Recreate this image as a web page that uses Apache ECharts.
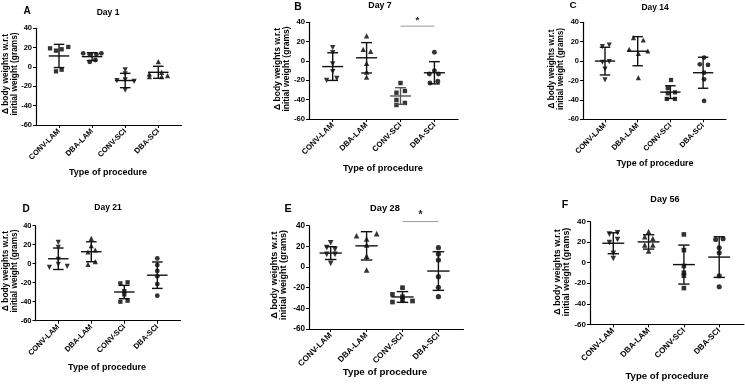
<!DOCTYPE html>
<html><head><meta charset="utf-8">
<script src="https://cdn.jsdelivr.net/npm/echarts@6/dist/echarts.min.js"></script>
<style>html,body{margin:0;padding:0;background:#fff}#c{width:745px;height:388px}</style>
</head><body><div id="c"></div>
<script>
// ---------- data ----------
const categories = ['CONV-LAM', 'DBA-LAM', 'CONV-SCI', 'DBA-SCI'];
const yTicks = [-60, -40, -20, 0, 20, 40];
const panelTitles = ['Day 1', 'Day 7', 'Day 14', 'Day 21', 'Day 28', 'Day 56'];
const panelLetters = ['A', 'B', 'C', 'D', 'E', 'F'];
const xAxisTitle = 'Type of procedure';
const yAxisTitle = 'Δ body weights w.r.t\ninitial weight (grams)';

// Day 1
const d1_values = [[19.3, 16.9, 18.3, 20.7, -4.5, -2.8], [14.1, 13.1, 13.1, 14.1, 5.2, 7.2], [-3, -7, -14, -14.8, -13.4, -24], [5.5, -7.2, -10, -5.5, -10, -9]];
const d1_jitter = [[-0.27, -0.09, 0.08, 0.28, -0.09, 0.08], [-0.27, -0.07, 0.13, 0.28, -0.07, 0.1], [0, 0, -0.25, 0.27, 0, 0], [0, -0.27, -0.27, 0.1, 0.1, 0.28]];
const d1_mean = [11.4, 10.7, -14.0, -5.5];
const d1_sd = [12.0, 4.1, 7.4, 6.2];
// Day 7
const d7_values = [[13.8, 8.6, -3.1, -11, -20, -18], [25.9, 12, 10, -2.4, -11.4, -16.6], [-22.8, -32.8, -31, -40.3, -45.5, -43.4], [9, -10, -13.4, -13.4, -22.8, -21]];
const d7_jitter = [[0, 0, 0, 0, -0.18, 0.12], [0, -0.1, 0.12, 0, 0, 0], [0, -0.12, 0.13, -0.12, -0.12, 0.13], [0, 0, -0.15, 0.12, -0.13, 0.1]];
const d7_mean = [-5.8, 3.3, -36.2, -12.2];
const d7_sd = [14.3, 15.7, 8.6, 11.5];
const d7_sig = [2, 3, 36];
// Day 14
const d14_values = [[14.9, 16.6, -1.2, -0.5, -8.1, -19.4], [24.2, 21.8, 12.2, 10.4, 8, -17], [-19.5, -28, -32.2, -33.2, -39, -39], [3.6, -3.3, -4, -11.9, -18.8, -41.1]];
const d14_jitter = [[-0.08, 0.13, -0.08, 0.13, 0, 0], [-0.13, 0.17, -0.26, 0.31, 0.02, 0.02], [0.02, -0.08, 0.14, -0.08, -0.11, 0.14], [0.03, -0.1, 0.15, 0.03, 0.03, 0.03]];
const d14_mean = [0, 10.2, -32.0, -12.0];
const d14_sd = [14.3, 15.0, 6.6, 16.0];
// Day 21
const d21_values = [[22.5, 17.2, 4.6, -0.7, -3.9, -2.8], [26.7, 18.9, 12.3, 14.4, -0.7, 2.1], [-20.7, -19.6, -28.8, -32.3, -40, -38.9], [5.6, -1.4, -7.7, -13.3, -21.4, -33.7]];
const d21_jitter = [[0, 0, 0, 0, -0.27, 0.27], [0, 0, -0.1, 0.12, -0.1, 0.12], [-0.12, 0.1, 0, 0, -0.12, 0.1], [0, 0, 0, 0, 0, 0]];
const d21_mean = [5.2, 12.6, -29.8, -12.1];
const d21_sd = [11.3, 10.5, 7.0, 13.9];
// Day 28
const d28_values = [[23.5, 18.7, 17.1, 12.3, 12.3, 3.5], [30.3, 27.1, 32.3, 21.3, 10.6, -2.9], [-20, -26.5, -28.7, -31.9, -33.9, -32.9], [18.7, 12.6, 6.8, -9.4, -19.7, -28.7]];
const d28_jitter = [[0, -0.11, 0.12, -0.11, 0.12, 0], [-0.28, 0, 0.28, 0, 0, 0], [0, -0.28, 0, 0, -0.28, 0.28], [0, 0, 0, 0, 0, 0]];
const d28_mean = [13.5, 20.5, -29.0, -3.9];
const d28_sd = [6.2, 13.7, 5.2, 18.7];
const d28_sig = [2, 3, 44];
// Day 56
const d56_values = [[27.9, 29.2, 19.8, 22.7, 9.1, 4.2], [30.2, 25.3, 23.7, 17.2, 17.2, 11.4], [27.6, 12.3, -3.2, -9.7, -12.7, -24.7], [22.7, 23.4, 14.6, 9.7, -12.7, -23.4]];
const d56_jitter = [[-0.11, 0.12, -0.11, 0.12, 0, 0], [0, -0.11, 0.12, -0.11, 0.12, 0], [0, 0, 0, 0, 0, 0], [-0.1, 0.11, 0, 0, 0, 0]];
const d56_mean = [19.0, 20.3, -1.8, 5.5];
const d56_sd = [10.2, 7.0, 19.0, 19.8];

// ---------- layout / style ----------
const panels = [
  {values: d1_values, jitter: d1_jitter, mean: d1_mean, sd: d1_sd, sig: null,
   left: 36, top: 28.3, bottom: 125, tick0: 59, step: 33.1, title: [108, 13], letter: [27, 11], xName: [108, 173], yName: [10, 74], shapes: ['sq', 'ci', 'td', 'tu']},
  {values: d7_values, jitter: d7_jitter, mean: d7_mean, sd: d7_sd, sig: d7_sig,
   left: 309, top: 22.3, bottom: 119, tick0: 332.7, step: 33.9, title: [380, 6], letter: [298, 7], xName: [383, 168], yName: [282, 69], shapes: ['td', 'tu', 'sq', 'ci']},
  {values: d14_values, jitter: d14_jitter, mean: d14_mean, sd: d14_sd, sig: null,
   left: 583, top: 22.3, bottom: 119.3, tick0: 605, step: 32.7, title: [655, 8], letter: [573, 5], xName: [655, 164], yName: [556, 69], shapes: ['td', 'tu', 'sq', 'ci']},
  {values: d21_values, jitter: d21_jitter, mean: d21_mean, sd: d21_sd, sig: null,
   left: 35.5, top: 225.7, bottom: 320.7, tick0: 58.3, step: 33, title: [108, 208], letter: [26, 209], xName: [107, 368], yName: [10, 271], shapes: ['td', 'tu', 'sq', 'ci']},
  {values: d28_values, jitter: d28_jitter, mean: d28_mean, sd: d28_sd, sig: d28_sig,
   left: 309, top: 225.7, bottom: 329, tick0: 330.7, step: 35.9, title: [385, 208], letter: [288, 209], xName: [385, 372], yName: [279, 275], shapes: ['td', 'tu', 'sq', 'ci']},
  {values: d56_values, jitter: d56_jitter, mean: d56_mean, sd: d56_sd, sig: null,
   left: 590, top: 221.7, bottom: 324.3, tick0: 613.3, step: 35.3, title: [665, 199], letter: [565, 205], xName: [667, 376], yName: [562, 272], shapes: ['td', 'tu', 'sq', 'ci']}
];
const FONT = '"Liberation Sans", Arial, sans-serif';
const symbolOf = {
  sq: {symbol: 'rect', size: 4.3, rot: 0},
  ci: {symbol: 'circle', size: 4.8, rot: 0},
  tu: {symbol: 'triangle', size: 5.2, rot: 0},
  td: {symbol: 'triangle', size: 5.2, rot: 180}
};

const grids = [], xAxes = [], yAxes = [], series = [], graphics = [];
panels.forEach((p, i) => {
  const s = p.step / 33;
  const xMin = -(p.tick0 - p.left) / p.step;
  const xMax = 3.7;
  grids.push({left: p.left, top: p.top, width: (xMax - xMin) * p.step, height: p.bottom - p.top, containLabel: false});
  xAxes.push({
    type: 'value', gridIndex: i, min: xMin, max: xMax,
    axisLine: {show: true, onZero: false, lineStyle: {color: '#000', width: 1.2}},
    axisTick: {show: true, customValues: [0, 1, 2, 3], length: 3, lineStyle: {color: '#000', width: 1}},
    axisLabel: {show: true, customValues: [0, 1, 2, 3], formatter: v => categories[Math.round(v)],
      rotate: 45, margin: 5, fontSize: 7.6 * s, fontWeight: 'bold', color: '#000', fontFamily: FONT},
    splitLine: {show: false}
  });
  yAxes.push({
    type: 'value', gridIndex: i, min: yTicks[0], max: yTicks[yTicks.length - 1], interval: 20,
    axisLine: {show: true, onZero: false, lineStyle: {color: '#000', width: 1.2}},
    axisTick: {show: true, length: 3, lineStyle: {color: '#000', width: 1}},
    axisLabel: {show: true, margin: 4, fontSize: 7.5 * s, fontWeight: 'bold', color: '#000', fontFamily: FONT},
    splitLine: {show: false}
  });
  // scatter points
  p.values.forEach((vals, g) => {
    const sym = symbolOf[p.shapes[g]];
    series.push({
      type: 'scatter', xAxisIndex: i, yAxisIndex: i,
      symbol: sym.symbol, symbolSize: sym.size * s, symbolRotate: sym.rot,
      itemStyle: {color: '#000'}, z: 2,
      data: vals.map((v, k) => [g + p.jitter[g][k], v])
    });
  });
  // mean ± SD bars
  const barColor = (i === 1) ? ['#111', '#111', '#555', '#111'] : ['#111', '#111', '#111', '#111'];
  series.push({
    type: 'custom', xAxisIndex: i, yAxisIndex: i, z: 3,
    data: p.mean.map((m, g) => [g, m, p.sd[g]]),
    renderItem: (params, api) => {
      const x = api.value(0), m = api.value(1), sd = api.value(2);
      const c = api.coord([x, m]);
      const t = api.coord([x, m + sd]);
      const b = api.coord([x, m - sd]);
      const w = api.size([1, 0])[0];
      const hw = w * 0.31, cw = w * 0.16;
      const st = {stroke: barColor[Math.round(x)], lineWidth: 1.4};
      return {type: 'group', children: [
        {type: 'line', shape: {x1: c[0] - hw, y1: c[1], x2: c[0] + hw, y2: c[1]}, style: st},
        {type: 'line', shape: {x1: t[0], y1: t[1], x2: b[0], y2: b[1]}, style: st},
        {type: 'line', shape: {x1: t[0] - cw, y1: t[1], x2: t[0] + cw, y2: t[1]}, style: st},
        {type: 'line', shape: {x1: b[0] - cw, y1: b[1], x2: b[0] + cw, y2: b[1]}, style: st}
      ]};
    }
  });
  // significance bracket with star
  if (p.sig) {
    series.push({
      type: 'custom', xAxisIndex: i, yAxisIndex: i, clip: false, silent: true, z: 4,
      data: [[p.sig[0], p.sig[1], p.sig[2]]],
      renderItem: (params, api) => {
        const a = api.coord([api.value(0), api.value(2)]);
        const b = api.coord([api.value(1), api.value(2)]);
        return {type: 'group', children: [
          {type: 'line', shape: {x1: a[0], y1: a[1], x2: b[0], y2: b[1]}, style: {stroke: '#999', lineWidth: 1}},
          {type: 'text', x: (a[0] + b[0]) / 2, y: a[1] - 1, style: {text: '*', fill: '#222', font: `bold ${9.5 * s}px ${FONT}`, textAlign: 'center', textVerticalAlign: 'bottom'}}
        ]};
      }
    });
  }
  // texts
  graphics.push({type: 'text', x: p.letter[0], y: p.letter[1], style: {text: panelLetters[i], font: `bold ${10 * s}px ${FONT}`, fill: '#000', textAlign: 'center', textVerticalAlign: 'middle'}});
  graphics.push({type: 'text', x: p.title[0], y: p.title[1], style: {text: panelTitles[i], font: `bold ${8.5 * s}px ${FONT}`, fill: '#000', textAlign: 'center', textVerticalAlign: 'middle'}});
  graphics.push({type: 'text', x: p.xName[0], y: p.xName[1], style: {text: xAxisTitle, font: `bold ${9 * s}px ${FONT}`, fill: '#000', textAlign: 'center', textVerticalAlign: 'middle'}});
  graphics.push({type: 'text', x: p.yName[0], y: p.yName[1], rotation: Math.PI / 2, style: {text: yAxisTitle, font: `bold ${8.3 * s}px ${FONT}`, lineHeight: 9 * s, fill: '#000', textAlign: 'center', textVerticalAlign: 'middle'}});
});

const chart = echarts.init(document.getElementById('c'), null, {renderer: 'canvas'});
chart.setOption({
  backgroundColor: '#fff',
  animation: false,
  grid: grids, xAxis: xAxes, yAxis: yAxes, series: series, graphic: graphics
});
</script></body></html>
